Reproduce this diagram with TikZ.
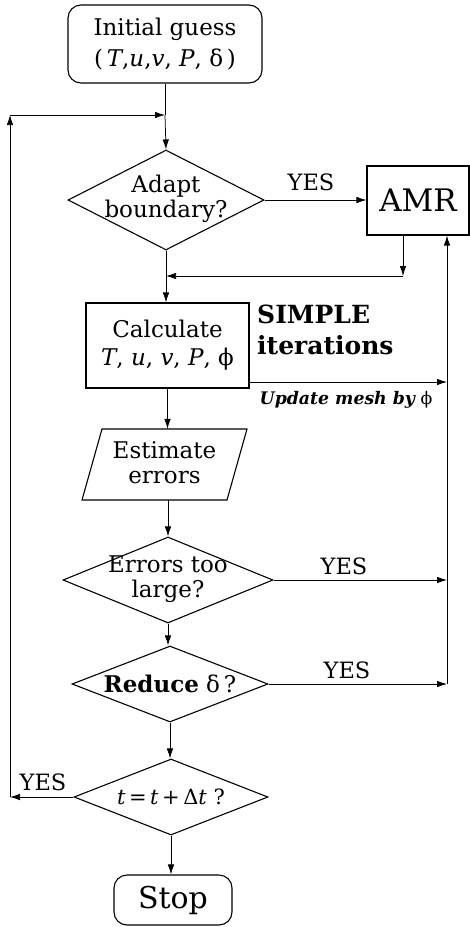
\documentclass[tikz,border=0pt]{standalone}
\usepackage{fontspec}
\setmainfont{DejaVu Serif}
\usetikzlibrary{shapes.geometric,arrows.meta}
\begin{document}
\begin{tikzpicture}[x=1pt,y=1pt,
  ln/.style={line width=0.75pt},
  arr/.style={ln,-{Latex[length=10pt,width=6.5pt]}},
  shp/.style={draw,line width=1.1pt,inner sep=0pt},
  rbox/.style={shp,rounded corners=13pt},
  dia/.style={shp,diamond},
  txt/.style={align=center,inner sep=0pt,font=\fontsize{23}{25}\selectfont},
  lab/.style={inner sep=0pt,font=\fontsize{22.5}{24}\selectfont},
]
\useasboundingbox (0,0) rectangle (470,-927);

% shapes
\node[rbox,minimum width=194pt,minimum height=78pt,txt] (init) at (165,-44)
  {Initial guess\\[6pt](\,\textit{T},\textit{u},\textit{v}, \textit{P}, δ\,)};
\node[dia,minimum width=196pt,minimum height=100pt] (d1) at (166,-200) {};
\node[txt] (d1t) at (166,-199) {Adapt\\boundary?};
\node[shp,minimum width=102pt,minimum height=69pt,font=\fontsize{31}{36}\selectfont] (amr) at (418,-200.5) {AMR};
\node[shp,minimum width=163pt,minimum height=85pt,txt] (calc) at (167.5,-345.5)
  {Calculate\\[3pt]\textit{T}, \textit{u}, \textit{v}, \textit{P}, ϕ};
\node[anchor=north west,align=left,inner sep=0pt,font=\fontsize{25}{31}\selectfont\bfseries] (simple) at (257,-305)
  {SIMPLE\\iterations};
\node[inner sep=0pt,minimum width=145pt,minimum height=71pt] (est) at (164.5,-464.5) {};
\draw[line width=1.1pt] (102,-429) -- (247,-429) -- (227,-500) -- (82,-500) -- cycle;
\node[txt] (estt) at (164.5,-463) {Estimate\\errors};
\node[dia,minimum width=210pt,minimum height=86pt] (d2) at (168,-580) {};
\node[txt] (d2t) at (168,-579) {Errors too\\large?};
\node[dia,minimum width=196pt,minimum height=76pt] (d3) at (170,-684) {};
\node[txt] (d3t) at (170,-684) {\textbf{Reduce} δ\,?};
\node[dia,minimum width=194pt,minimum height=76pt] (d4) at (171,-797) {};
\node[inner sep=0pt,font=\fontsize{21}{24}\selectfont] (d4t) at (171,-797) {\textit{t}\,=\,\textit{t}\,+\,Δ\textit{t} ?};
\node[rbox,minimum width=118pt,minimum height=50pt,font=\fontsize{30}{34}\selectfont] (stop) at (173,-900) {Stop};

% labels
\node[lab] (y1) at (311,-182) {YES};
\node[lab] (y2) at (344,-566) {YES};
\node[lab] (y3) at (347,-670) {YES};
\node[lab] (y4) at (43,-782) {YES};
\node[inner sep=0pt,font=\fontsize{17.3}{19}\selectfont] (upd) at (346,-400)
  {{\bfseries\itshape Update mesh by} ϕ};

% coordinates
\coordinate (j0) at (165,-115);
\coordinate (cl) at (10,-115);
\coordinate (cb) at (10,-797);
\coordinate (a1) at (403,-276);
\coordinate (j1) at (166,-276);
\coordinate (r1) at (447,-382);
\coordinate (r2) at (447,-580);
\coordinate (r3) at (447,-684);

% connectors
\draw[ln] (init.south) -- (j0);
\draw[arr] (j0) -- (d1.north);
\draw[arr] (d4.west) -- (cb);
\draw[arr] (cb) -- (cl);
\draw[arr] (cl) -- (j0);
\draw[arr] (d1.east) -- (d1.east -| amr.west);
\draw[arr] (amr.south -| a1) -- (a1);
\draw[arr] (a1) -- (j1);
\draw[ln] (d1.south) -- (j1);
\draw[arr] (j1) -- (j1 |- calc.north);
\draw[arr] (calc.east |- r1) -- (r1);
\draw[arr] (calc.south) -- (calc.south |- est.north);
\draw[arr] (d2.north |- est.south) -- (d2.north);
\draw[arr] (d2.east) -- (r2);
\draw[arr] (d2.south) -- (d2.south |- d3.north);
\draw[arr] (d3.east) -- (r3);
\draw[arr] (r3) -- (r3 |- amr.south);
\draw[arr] (d3.south) -- (d3.south |- d4.north);
\draw[arr] (d4.south) -- (d4.south |- stop.north);
\end{tikzpicture}
\end{document}
